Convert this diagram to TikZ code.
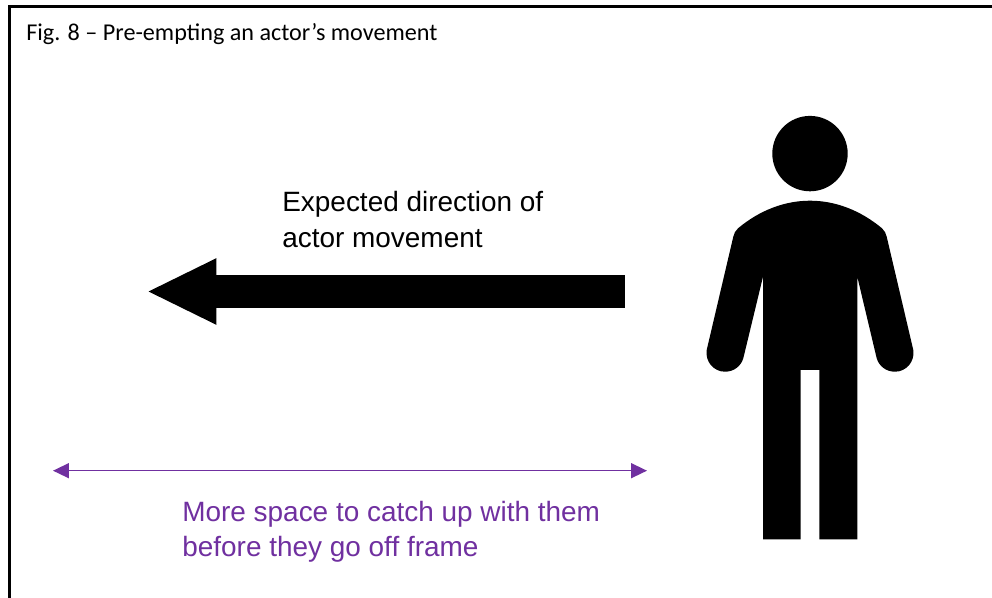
\documentclass[tikz,border=0pt]{standalone}
\usepackage{fontspec}
\usetikzlibrary{arrows.meta}
\setmainfont{Liberation Sans}
\newfontfamily\captionfont{Carlito}
\definecolor{spacepurple}{HTML}{7030A0}

\begin{document}
\begin{tikzpicture}[x=0.02cm, y=-0.02cm,
    label/.style={anchor=north west, inner sep=0pt, align=left, font=\fontsize{15.9}{20.4}\selectfont},
    movearrow/.style={line width=0.66cm, -{Triangle[length=1.4cm, width=1.22cm]}},
    spacearrow/.style={spacepurple, line width=0.85pt, {Triangle[length=0.32cm, width=0.3cm]}-{Triangle[length=0.32cm, width=0.3cm]}}]
    \useasboundingbox (0,0) rectangle (992,598);
    \fill[white] (0,0) rectangle (992,598);
    \draw[line width=1.7pt] (9.5,598) -- (9.5,6.4) -- (992,6.4);
    \node[anchor=north west, inner sep=0pt, font=\captionfont\fontsize{13.75}{16}\selectfont] (caption) at (26,23) {Fig. 8 – Pre-empting an actor’s movement};
    \node[label] (movetext) at (282,191) {Expected direction of\\actor movement};
    \node[label, text=spacepurple] (spacetext) at (182,500.5) {More space to catch up with them\\before they go off frame};
    \coordinate (movestart) at (624.5,291.5);
    \coordinate (moveend) at (146.5,291.5);
    \coordinate (spaceleft) at (53,470.7);
    \coordinate (spaceright) at (647,470.7);
    \draw[movearrow] (movestart) -- (moveend);
    \draw[spacearrow] (spaceleft) -- (spaceright);
    % person
    \fill (810,153.6) circle[radius=0.754cm];
    \fill (810,200.7) .. controls (785,200.7) and (760,210) .. (738,228.3)
        .. controls (735.5,230.5) and (734,233.5) .. (733.3,236.7)
        -- (706.7,350)
        .. controls (705,362) and (714,371.7) .. (725,371.7)
        .. controls (734,371.7) and (741,366) .. (743.3,358.3)
        -- (763,276.7) -- (763,539.3) -- (800.7,539.3) -- (800.7,370) -- (819.3,370) -- (819.3,539.3) -- (857.3,539.3) -- (857.3,276.7)
        -- (876.7,358.3)
        .. controls (879,366) and (886,371.7) .. (895,371.7)
        .. controls (906,371.7) and (915,362) .. (913.3,350)
        -- (886.7,236.7)
        .. controls (886,233.5) and (884.5,230.5) .. (882,228.3)
        .. controls (860,210) and (835,200.7) .. (810,200.7) -- cycle;
\end{tikzpicture}
\end{document}
